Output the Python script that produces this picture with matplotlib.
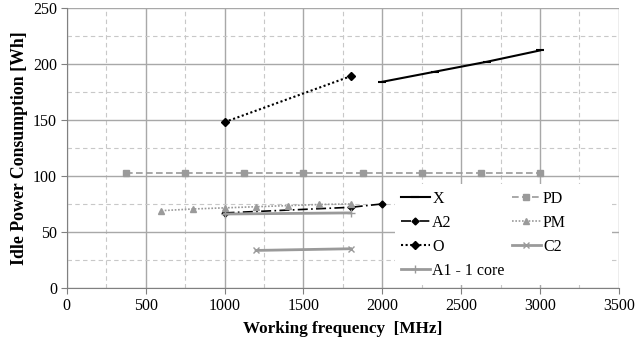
import matplotlib
matplotlib.use("Agg")
import matplotlib.pyplot as plt
from matplotlib.ticker import MultipleLocator
from matplotlib.patches import Rectangle

plt.rcParams['font.family'] = ['Liberation Serif', 'DejaVu Serif']

x_X = [2000, 2333, 2667, 3000]
y_X = [184, 193, 202, 212]
x_O = [1000, 1800]
y_O = [148, 189]
x_A2 = [1000, 1800, 2000]
y_A2 = [67, 72, 75]
x_A1 = [1000, 1800]
y_A1 = [66, 67]
x_PD = [375, 750, 1125, 1500, 1875, 2250, 2625, 3000]
y_PD = [103, 103, 103, 103, 103, 103, 103, 103]
x_PM = [600, 800, 1000, 1200, 1400, 1600, 1800]
y_PM = [69, 70.5, 71.5, 72.5, 73.5, 74.5, 75]
x_C2 = [1200, 1800]
y_C2 = [33.5, 35]

fig = plt.figure(figsize=(6.36, 3.42), dpi=100)
ax = fig.add_axes([0.105, 0.158, 0.868, 0.819])

gray = '#9a9a9a'
hX, = ax.plot(x_X, y_X, color='black', lw=1.5, marker='_', ms=6, mew=1.5, label='X')
hA2, = ax.plot(x_A2, y_A2, color='black', lw=1.2, ls=(0, (6, 2, 1, 2)), marker='D', ms=3.5, label='A2')
hO, = ax.plot(x_O, y_O, color='black', lw=1.5, ls=(0, (1, 1.2)), marker='D', ms=4.5, label='O')
hA1, = ax.plot(x_A1, y_A1, color=gray, lw=2, marker='+', ms=6, mew=1, label='A1 - 1 core')
hPD, = ax.plot(x_PD, y_PD, color=gray, lw=1.2, ls=(0, (4, 2)), marker='s', ms=5, label='PD')
hPM, = ax.plot(x_PM, y_PM, color=gray, lw=1.2, ls=(0, (1, 1)), marker='^', ms=5, label='PM')
hC2, = ax.plot(x_C2, y_C2, color=gray, lw=2, marker='x', ms=5, mew=1, label='C2')

ax.set_xlim(0, 3500)
ax.set_ylim(0, 250)
ax.xaxis.set_major_locator(MultipleLocator(500))
ax.yaxis.set_major_locator(MultipleLocator(50))
ax.xaxis.set_minor_locator(MultipleLocator(250))
ax.yaxis.set_minor_locator(MultipleLocator(25))
ax.grid(which='major', color='#a8a8a8', lw=1, ls='-')
ax.grid(which='minor', color='#c8c8c8', lw=0.8, ls=(0, (4, 3)))
ax.set_axisbelow(True)
for s in ['top', 'right']:
    ax.spines[s].set_visible(False)
for s in ['left', 'bottom']:
    ax.spines[s].set_color('#808080')
ax.tick_params(which='major', length=4, color='#808080', labelsize=11.5, pad=3)
ax.tick_params(which='minor', length=0)

ax.set_xlabel('Working frequency  [MHz]', fontsize=12.3, fontweight='bold', labelpad=5)
ax.set_ylabel('Idle Power Consumption [Wh]', fontsize=12.8, fontweight='bold', labelpad=4)

# white legend background area (wider than the legend content, as in the original)
ax.add_patch(Rectangle((0.594, 0.01), 0.393, 0.36, transform=ax.transAxes,
                       facecolor='white', edgecolor='none', zorder=1.5))

leg = ax.legend(handles=[hX, hA2, hO, hA1, hPD, hPM, hC2], ncol=2, loc='lower left',
                bbox_to_anchor=(0.594, 0.01), frameon=True, fancybox=False, edgecolor='none',
                framealpha=1, fontsize=11.5, handlelength=1.8, handletextpad=0.15,
                columnspacing=0.45, labelspacing=0.5, borderaxespad=0.0, borderpad=0.4)

fig.savefig('out.png', dpi=100)
